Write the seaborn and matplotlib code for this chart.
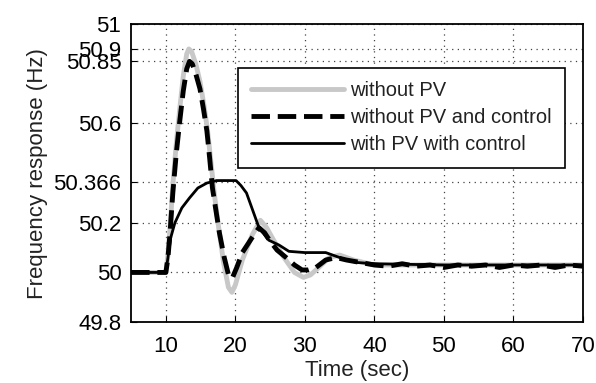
import pandas as pd
import seaborn as sns
import matplotlib
matplotlib.use("Agg")
import matplotlib.pyplot as plt

# -------------------------------
# Data
# -------------------------------
t_nopv = [5, 10, 10.3, 10.6, 11, 11.5, 12, 12.5, 13, 13.3, 13.7, 14.3, 14.9, 15.5,
          16, 16.5, 17, 17.6, 18.3, 19, 19.5, 20, 21, 22.4, 23.6, 24.5, 25.5, 27,
          28.5, 29.8, 30.8, 32, 33.5, 35, 37, 40, 45, 50, 55, 60, 65, 70]
f_nopv = [50.0, 50.0, 50.07, 50.18, 50.35, 50.52, 50.66, 50.79, 50.88, 50.90, 50.89,
          50.84, 50.77, 50.67, 50.57, 50.44, 50.31, 50.18, 50.04, 49.94, 49.92, 49.95,
          50.05, 50.15, 50.21, 50.18, 50.13, 50.06, 50.00, 49.98, 49.99, 50.02, 50.06,
          50.07, 50.05, 50.03, 50.03, 50.03, 50.03, 50.03, 50.03, 50.03]

t_noctrl = [5, 10, 10.3, 10.6, 11, 11.5, 12, 12.5, 13, 13.4, 13.8, 14.3, 14.9, 15.4,
            15.9, 16.3, 16.7, 17.2, 17.7, 18.4, 19.1, 19.6, 20.2, 21, 22.4, 23.4, 24.2,
            24.9, 26, 27.3, 28.5, 29.6, 30.5, 31.6, 33, 34.5, 36, 38, 40, 42, 44, 46,
            48, 50, 52, 54, 56, 58, 60, 62, 64, 66, 68, 70]
f_noctrl = [50.0, 50.0, 50.06, 50.16, 50.32, 50.48, 50.61, 50.73, 50.82, 50.85, 50.84,
            50.80, 50.74, 50.66, 50.57, 50.46, 50.34, 50.25, 50.16, 50.06, 49.98, 49.98,
            50.02, 50.08, 50.14, 50.18, 50.16, 50.13, 50.09, 50.06, 50.03, 50.01, 50.01,
            50.02, 50.05, 50.06, 50.05, 50.04, 50.03, 50.025, 50.035, 50.025, 50.03,
            50.02, 50.03, 50.025, 50.03, 50.02, 50.03, 50.025, 50.03, 50.02, 50.03, 50.025]

t_ctrl = [5, 10, 10.3, 10.7, 11.3, 12.3, 13.4, 14.6, 15.9, 17.3, 20.1, 20.8, 21.6,
          22.5, 23.4, 24.8, 26.3, 27.7, 30, 33, 34.5, 36, 37.5, 40, 50, 60, 70]
f_ctrl = [50.0, 50.0, 50.06, 50.14, 50.20, 50.26, 50.30, 50.34, 50.36, 50.37, 50.37,
          50.35, 50.32, 50.25, 50.18, 50.13, 50.11, 50.085, 50.08, 50.08, 50.065,
          50.05, 50.04, 50.035, 50.03, 50.03, 50.03]

labels = ["without PV", "without PV and control", "with PV with control"]
yticks = [49.8, 50, 50.2, 50.366, 50.6, 50.85, 50.9, 51]
ytick_labels = ["49.8", "50", "50.2", "50.366", "50.6", "50.85", "50.9", "51"]
xticks = [10, 20, 30, 40, 50, 60, 70]

# -------------------------------
# Plot
# -------------------------------
sns.set_style("ticks")
plt.rcParams["font.family"] = ["Liberation Sans", "DejaVu Sans"]

fig = plt.figure(figsize=(5.96, 3.83), dpi=100)
ax = fig.add_axes([0.22, 0.159, 0.758, 0.778])

sns.lineplot(x=t_nopv, y=f_nopv, ax=ax, color="#c8c8c8", linewidth=3.5,
             label=labels[0], sort=False)
sns.lineplot(x=t_noctrl, y=f_noctrl, ax=ax, color="black", linewidth=3.5,
             linestyle=(0, (3.8, 1.6)), label=labels[1], sort=False)
sns.lineplot(x=t_ctrl, y=f_ctrl, ax=ax, color="black", linewidth=2.0,
             label=labels[2], sort=False)

ax.set_xlim(5, 70)
ax.set_ylim(49.8, 51)
ax.set_xticks(xticks)
ax.set_yticks(yticks)
ax.set_yticklabels(ytick_labels)
ax.tick_params(direction="in", length=4, labelsize=16, colors="black")
ax.tick_params(axis="x", pad=10)
ax.tick_params(axis="y", pad=7)
ax.grid(True, color="#444444", linestyle=(0, (1, 3.5)), linewidth=0.9)

for s in ax.spines.values():
    s.set_visible(True)
    s.set_color("black")
    s.set_linewidth(1.3)

ax.set_xlabel("Time (sec)", fontsize=16, labelpad=2, color="#222222")
ax.set_ylabel("Frequency response (Hz)", fontsize=16, labelpad=4, color="#222222")

leg = ax.legend(loc="upper right", bbox_to_anchor=(0.96, 0.852), borderaxespad=0,
                fontsize=14.5, frameon=True, fancybox=False, framealpha=1,
                edgecolor="black", handlelength=4.6, borderpad=0.65,
                labelspacing=0.4, handletextpad=0.3)
leg.get_frame().set_linewidth(1.2)
for txt in leg.get_texts():
    txt.set_color("#222222")

fig.savefig("out.png", dpi=100)
